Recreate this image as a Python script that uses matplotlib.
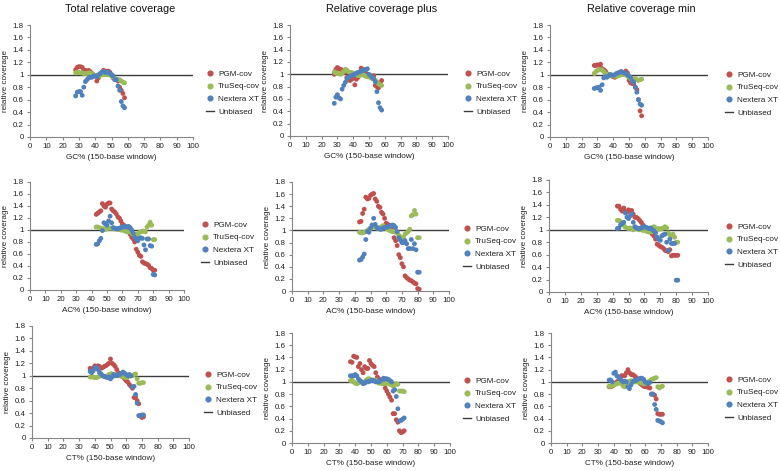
import matplotlib
matplotlib.use("Agg")
import matplotlib.pyplot as plt
from matplotlib.lines import Line2D

plt.rcParams['font.family'] = ['Liberation Sans', 'DejaVu Sans']

# ---------------- data ----------------
GC_X = [28, 29, 30, 31, 32, 33, 34, 35, 36, 37, 38, 39, 40, 41, 42, 43, 44, 45, 46, 47,
        48, 49, 50, 51, 52, 53, 54, 55, 56, 57, 58]
AC_X = [43, 44, 45, 46, 47, 48, 49, 50, 51, 52, 53, 54, 55, 56, 57, 58, 59, 60, 61, 62,
        63, 64, 65, 66, 67, 68, 69, 70, 71, 72, 73, 74, 75, 76, 77, 78, 79, 80, 81]
CT_X = [37, 38, 39, 40, 41, 42, 43, 44, 45, 46, 47, 48, 49, 50, 51, 52, 53, 54, 55, 56,
        57, 58, 59, 60, 61, 62, 63, 64, 65, 66, 67, 68, 69, 70, 71]

# Total relative coverage, GC
TOT_GC_PGM = [1.08, 1.12, 1.13, 1.13, 1.12, 1.08, 1.07, 1.06, 1.07, 1.05, 1.02, 1.0, 0.98, 0.9, 0.95, 1.0,
              1.03, 1.07, 1.06, 1.05, 1.06, 1.04, 1.0, 0.95, 0.93, 0.92, 0.9, 0.8, 0.75, 0.7, 0.63]
TOT_GC_TRU = [1.03, 1.04, 1.04, 1.03, 1.03, 1.02, 1.02, 1.02, 1.03, 1.03, 1.01, 1.0, 0.99, 0.99, 0.98, 0.99,
              1.0, 1.0, 1.01, 1.0, 1.0, 1.0, 0.98, 0.96, 0.94, 0.93, 0.92, 0.92, 0.9, 0.88, 0.87]
TOT_GC_NXT = [0.66, 0.72, 0.73, 0.73, 0.67, 0.80, 0.89, 0.92, 0.95, 0.96, 0.96, 0.98, 0.98, 0.97, 1.0, 1.02,
              1.04, 1.05, 1.04, 1.04, 1.04, 1.02, 1.0, 0.98, 0.92, 0.92, 0.82, 0.75, 0.57, 0.5, 0.47]
# Relative coverage plus, GC
PLS_GC_PGM = [1.0, 1.08, 1.11, 1.09, 1.08, 1.07, 1.06, 1.03, 0.95, 0.91, 0.90, 0.92, 0.94, 0.83, 0.92, 0.95,
              1.0, 1.1, 1.08, 1.05, 1.02, 1.0, 0.98, 0.95, 0.96, 0.98, 0.82, 0.80, 0.78, 0.86, 0.9]
PLS_GC_TRU = [1.04, 1.02, 1.02, 1.01, 1.0, 1.02, 1.05, 1.08, 1.07, 1.04, 1.03, 1.03, 1.02, 1.0, 0.99, 0.98,
              0.98, 0.99, 1.0, 0.98, 0.97, 0.96, 0.96, 0.95, 0.93, 0.92, 0.9, 0.88, 0.85, 0.83, 0.82]
PLS_GC_NXT = [0.53, 0.63, 0.67, 0.62, 0.6, 0.76, 0.82, 0.87, 0.93, 0.95, 0.97, 0.98, 0.99, 1.0, 1.02, 1.03,
              1.04, 1.05, 1.06, 1.07, 1.08, 1.09, 1.0, 0.98, 0.95, 0.93, 0.88, 0.72, 0.54, 0.46, 0.42]
# Relative coverage min, GC
MIN_GC_PGM = [1.15, 1.15, 1.16, 1.15, 1.17, 1.1, 1.08, 1.06, 1.02, 1.0, 1.0, 0.98, 0.97, 0.96, 0.98, 1.0,
              1.02, 1.05, 1.03, 1.04, 1.06, 1.03, 0.91, 0.87, 0.86, 0.86, 0.8, 0.76, 0.6, 0.42, 0.34]
MIN_GC_TRU = [1.02, 1.05, 1.07, 1.08, 1.08, 1.08, 1.05, 1.02, 1.0, 1.0, 0.99, 0.99, 0.98, 0.98, 0.98, 0.98,
              0.99, 1.0, 1.01, 1.0, 1.0, 0.98, 0.96, 0.94, 0.92, 0.93, 0.94, 0.92, 0.91, 0.92, 0.93]
MIN_GC_NXT = [0.78, 0.79, 0.79, 0.8, 0.75, 0.84, 0.95, 0.97, 0.96, 0.98, 1.0, 1.0, 0.99, 1.0, 1.02, 1.03,
              1.04, 1.05, 1.04, 1.03, 1.02, 1.0, 0.98, 0.96, 0.9, 0.88, 0.8, 0.72, 0.6, 0.53, 0.51]

# AC
TOT_AC_PGM = [1.26, 1.28, 1.3, 1.32, 1.44, 1.4, 1.38, 1.43, 1.45, 1.45, 1.35, 1.32, 1.3, 1.27, 1.22, 1.2,
              1.15, 1.1, 1.08, 1.05, 1.02, 1.0, 0.93, 0.88, 0.85, 0.8, 0.68, 0.63, 0.58, 0.56, 0.47, 0.45,
              0.44, 0.43, 0.41, 0.37, 0.36, 0.33, 0.33]
TOT_AC_TRU = [1.05, 1.05, 1.04, 1.03, 1.02, 1.02, 1.01, 1.02, 1.03, 1.03, 1.03, 1.03, 1.02, 1.02, 1.01, 1.01,
              1.0, 1.0, 0.99, 0.98, 0.97, 0.97, 0.98, 0.95, 0.93, 0.92, 0.93, 0.92, 0.96, 0.97, 0.98, 0.98,
              0.97, 1.05, 1.08, 1.13, 1.08, 0.84, 0.84]
TOT_AC_NXT = [0.76, 0.77, 0.82, 0.86, 0.99, 1.12, 1.1, 1.08, 1.15, 1.23, 1.12, 1.04, 1.03, 1.02, 1.02, 1.03,
              1.04, 1.05, 1.05, 1.06, 1.05, 1.06, 1.04, 1.0, 0.95, 0.88, 0.85, 0.82, 0.86, 0.87, 0.86, 0.75,
              0.67, 0.85, 0.85, 0.74, 0.73, 0.26, 0.25]
PLS_AC_PGM = [1.14, 1.15, 1.28, 1.35, 1.55, 1.52, 1.53, 1.58, 1.6, 1.61, 1.52, 1.48, 1.4, 1.38, 1.3, 1.27,
              1.2, 1.12, 1.1, 1.08, 1.05, 1.0, 0.88, 0.83, 0.75, 0.6, 0.55, 0.45, 0.4, 0.25, 0.22, 0.2,
              0.18, 0.17, 0.15, 0.13, 0.12, 0.04, 0.03]
PLS_AC_TRU = [0.97, 0.96, 0.96, 0.97, 0.98, 1.0, 1.02, 1.03, 1.05, 1.07, 1.05, 1.04, 1.04, 1.05, 1.06, 1.08,
              1.05, 1.03, 1.02, 1.0, 0.99, 0.98, 0.98, 0.97, 0.96, 0.92, 0.9, 0.88, 0.88, 0.94, 0.96, 0.98,
              1.02, 1.24, 1.26, 1.33, 1.27, 0.88, 0.88]
PLS_AC_NXT = [0.51, 0.52, 0.56, 0.61, 0.85, 0.98, 0.97, 1.04, 1.09, 1.2, 1.1, 1.05, 1.03, 1.02, 1.02, 1.04,
              1.05, 1.05, 1.06, 1.07, 1.08, 1.09, 1.08, 1.05, 0.98, 0.88, 0.84, 0.8, 0.8, 0.83, 0.78, 0.7,
              0.7, 0.85, 0.7, 0.78, 0.68, 0.31, 0.31]
MIN_AC_PGM = [1.38, 1.38, 1.33, 1.3, 1.35, 1.3, 1.28, 1.32, 1.3, 1.31, 1.25, 1.2, 1.2, 1.18, 1.15, 1.12,
              1.08, 1.05, 1.03, 1.02, 1.0, 0.98, 0.93, 0.9, 0.85, 0.77, 0.75, 0.73, 0.72, 0.7, 0.67, 0.66,
              0.65, 0.68, 0.58, 0.59, 0.59, 0.59, 0.59]
MIN_AC_TRU = [1.15, 1.15, 1.13, 1.1, 1.07, 1.04, 1.03, 1.02, 1.03, 1.02, 1.0, 1.02, 1.03, 1.01, 1.0, 1.0,
              0.99, 0.99, 0.98, 0.97, 0.96, 0.97, 0.97, 1.05, 1.03, 1.0, 1.02, 1.01, 1.02, 1.03, 1.05, 1.03,
              0.95, 0.92, 0.9, 0.93, 0.88, 0.8, 0.8]
MIN_AC_NXT = [1.02, 1.03, 1.08, 1.1, 1.12, 1.27, 1.2, 1.18, 1.22, 1.25, 1.12, 1.05, 1.03, 1.02, 1.02, 1.03,
              1.04, 1.05, 1.04, 1.03, 1.02, 1.03, 1.0, 0.98, 0.95, 0.88, 0.85, 0.83, 0.9, 0.92, 0.93, 0.8,
              0.67, 0.85, 0.78, 0.78, 0.78, 0.19, 0.19]

# CT
TOT_CT_PGM = [1.12, 1.1, 1.12, 1.16, 1.15, 1.16, 1.15, 1.12, 1.13, 1.15, 1.16, 1.18, 1.2, 1.27, 1.2, 1.18,
              1.15, 1.1, 1.05, 1.02, 1.0, 0.98, 0.95, 0.92, 0.9, 0.86, 0.83, 0.8, 0.65, 0.66, 0.6, 0.55,
              0.35, 0.33, 0.34]
TOT_CT_TRU = [0.98, 0.98, 0.98, 0.97, 0.97, 0.98, 0.99, 1.0, 1.0, 0.99, 0.99, 1.0, 1.02, 1.03, 1.03, 1.02,
              1.02, 1.01, 1.0, 1.0, 0.99, 0.98, 0.98, 0.97, 0.98, 0.99, 1.0, 1.0, 1.02, 1.03, 0.95, 0.88,
              0.88, 0.89, 0.89]
TOT_CT_NXT = [1.07, 1.05, 1.08, 1.12, 1.14, 1.1, 1.05, 1.03, 1.0, 0.99, 0.98, 0.97, 0.98, 0.95, 0.98, 1.02,
              1.0, 1.0, 1.01, 1.02, 1.04, 1.06, 1.04, 1.02, 1.0, 1.02, 1.0, 0.82, 0.83, 0.7, 0.56, 0.36,
              0.36, 0.37, 0.37]
PLS_CT_PGM = [1.33, 1.32, 1.42, 1.41, 1.4, 1.25, 1.3, 1.2, 1.15, 1.25, 1.22, 1.22, 1.35, 1.3, 1.27, 1.25,
              1.15, 1.08, 1.05, 1.03, 1.0, 0.98, 0.9, 0.85, 0.8, 0.75, 0.7, 0.48, 0.48, 0.38, 0.34, 0.2,
              0.17, 0.18, 0.2]
PLS_CT_TRU = [1.02, 1.03, 1.0, 0.98, 0.97, 0.98, 1.0, 1.0, 0.98, 1.0, 1.03, 1.05, 1.05, 1.03, 1.03, 1.02,
              1.03, 1.0, 0.98, 0.98, 0.97, 0.97, 0.97, 0.98, 0.97, 0.96, 0.96, 0.93, 0.95, 0.97, 0.96, 0.85,
              0.85, 0.85, 0.84]
PLS_CT_NXT = [1.1, 1.1, 1.1, 1.12, 1.1, 1.05, 1.02, 1.0, 0.97, 0.98, 1.0, 1.0, 1.01, 1.02, 1.03, 1.02,
              1.0, 1.0, 1.0, 1.02, 1.04, 1.06, 1.05, 1.05, 1.04, 1.02, 1.0, 0.85, 0.87, 0.76, 0.56, 0.36,
              0.37, 0.39, 0.41]
MIN_CT_PGM = [0.92, 0.92, 0.93, 0.95, 0.98, 1.0, 1.02, 1.05, 1.1, 1.1, 1.1, 1.15, 1.2, 1.15, 1.12, 1.12,
              1.1, 1.08, 1.04, 1.0, 0.97, 0.95, 0.93, 0.92, 0.92, 0.91, 0.9, 0.8, 0.8, 0.78, 0.72, 0.48,
              0.47, 0.47, 0.47]
MIN_CT_TRU = [0.93, 0.93, 0.94, 0.95, 0.96, 0.97, 0.98, 0.98, 0.97, 0.93, 0.92, 0.93, 1.0, 1.01, 1.02, 1.01,
              1.0, 1.0, 1.0, 1.0, 0.99, 0.98, 0.97, 0.97, 0.98, 1.0, 1.02, 1.04, 1.05, 1.06, 1.07, 0.92,
              0.9, 0.92, 0.93]
MIN_CT_NXT = [1.03, 1.03, 1.0, 1.14, 1.16, 1.1, 1.08, 1.05, 1.02, 1.0, 1.01, 1.0, 0.92, 0.89, 0.95, 1.0,
              1.02, 1.02, 1.04, 1.05, 1.06, 1.06, 1.04, 1.0, 0.98, 0.98, 0.99, 0.8, 0.8, 0.63, 0.55, 0.37,
              0.36, 0.35, 0.33]

UNBIASED_X = [0, 100]
UNBIASED_Y = [1, 1]

COL_TITLES = ["Total relative coverage", "Relative coverage plus", "Relative coverage min"]
X_LABELS = ["GC% (150-base window)", "AC% (150-base window)", "CT% (150-base window)"]
SERIES_NAMES = ["PGM-cov", "TruSeq-cov", "Nextera XT", "Unbiased"]
X_TICKS = [0, 10, 20, 30, 40, 50, 60, 70, 80, 90, 100]
Y_TICKS = [0, 0.2, 0.4, 0.6, 0.8, 1, 1.2, 1.4, 1.6, 1.8]
Y_TICK_LABELS = ["0", "0.2", "0.4", "0.6", "0.8", "1", "1.2", "1.4", "1.6", "1.8"]

ROWS = [
    (GC_X, [(TOT_GC_PGM, TOT_GC_TRU, TOT_GC_NXT), (PLS_GC_PGM, PLS_GC_TRU, PLS_GC_NXT), (MIN_GC_PGM, MIN_GC_TRU, MIN_GC_NXT)]),
    (AC_X, [(TOT_AC_PGM, TOT_AC_TRU, TOT_AC_NXT), (PLS_AC_PGM, PLS_AC_TRU, PLS_AC_NXT), (MIN_AC_PGM, MIN_AC_TRU, MIN_AC_NXT)]),
    (CT_X, [(TOT_CT_PGM, TOT_CT_TRU, TOT_CT_NXT), (PLS_CT_PGM, PLS_CT_TRU, PLS_CT_NXT), (MIN_CT_PGM, MIN_CT_TRU, MIN_CT_NXT)]),
]

COLORS = ["#C0504D", "#9BBB59", "#4F81BD"]
LINE_COLOR = "#3C3C3C"
AXIS_COLOR = "#868686"
TXT = "#222222"
FS = 5.7

# axes boxes in pixels: (left, right, top, bottom)
W, H = 780, 471
BOXES = [
    [(30, 193, 25, 137), (290, 448, 25, 136), (550, 708, 25, 137)],
    [(30, 184, 182, 290), (292, 449, 182, 291), (549, 708, 180, 292)],
    [(32, 189, 326, 438), (292, 450, 333, 443), (551, 708, 333, 443)],
]
# legend anchor: (marker left x, center y)
LEG = [
    [(206, 93), (464, 93), (725, 94)],
    [(201, 244), (463, 248), (725, 246)],
    [(204, 394), (463, 400), (725, 399)],
]
TITLE_POS = [(120, 9), (382, 9), (641, 9)]

fig = plt.figure(figsize=(W / 100, H / 100), dpi=100)

for r, (xs, panels) in enumerate(ROWS):
    for c, series in enumerate(panels):
        l, rr, t, b = BOXES[r][c]
        ax = fig.add_axes([l / W, 1 - b / H, (rr - l) / W, (b - t) / H])
        for ys, col in zip(series, COLORS):
            ax.scatter(xs, ys, s=12, color=col, edgecolors='none', zorder=3)
        ax.plot(UNBIASED_X, UNBIASED_Y, color=LINE_COLOR, lw=1.0, zorder=2)
        ax.set_xlim(0, 100)
        ax.set_ylim(0, 1.8)
        ax.set_xticks(X_TICKS)
        ax.set_yticks(Y_TICKS)
        ax.set_yticklabels(Y_TICK_LABELS)
        ax.tick_params(axis='both', labelsize=FS, colors=AXIS_COLOR, labelcolor=TXT,
                       length=2.5, width=0.8, pad=2, direction='out')
        for s in ['top', 'right']:
            ax.spines[s].set_visible(False)
        for s in ['left', 'bottom']:
            ax.spines[s].set_color(AXIS_COLOR)
            ax.spines[s].set_linewidth(0.8)
        ax.set_xlabel(X_LABELS[r], fontsize=FS + 0.2, labelpad=2.5, color=TXT)
        ax.set_ylabel("relative coverage", fontsize=FS + 0.2, labelpad=2.5, color=TXT)

        handles = [Line2D([], [], marker='o', ls='none', color=col, markersize=3.4) for col in COLORS]
        handles.append(Line2D([], [], color=LINE_COLOR, lw=1.0))
        mx, cy = LEG[r][c]
        fig.legend(handles, SERIES_NAMES, loc='center left',
                   bbox_to_anchor=(mx / W, 1 - cy / H), frameon=False, fontsize=FS + 0.2,
                   handlelength=1.0, handletextpad=0.45, labelspacing=0.62, borderpad=0,
                   borderaxespad=0, labelcolor=TXT)

for (tx, ty), title in zip(TITLE_POS, COL_TITLES):
    fig.text(tx / W, 1 - ty / H, title, ha='center', va='center', fontsize=7.8, color='#111111')

fig.savefig("out.png", dpi=100)
